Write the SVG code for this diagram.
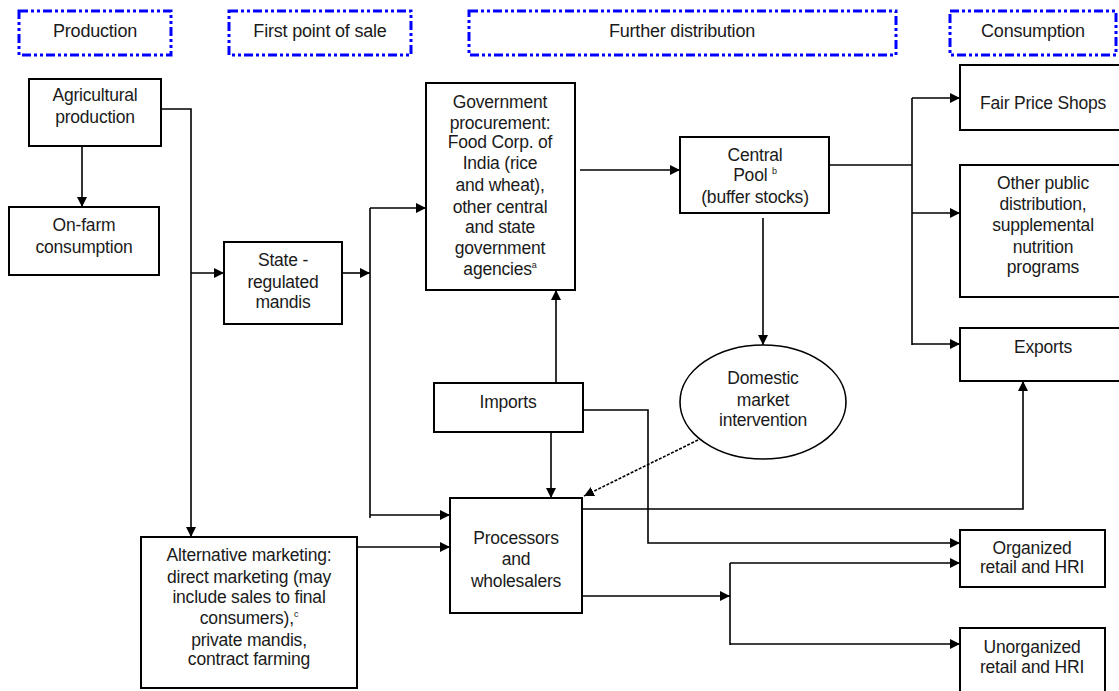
<svg xmlns="http://www.w3.org/2000/svg" width="1119" height="691" viewBox="0 0 1119 691">
<defs>
<marker id="ah" viewBox="0 0 10 10" refX="10" refY="5" markerWidth="10" markerHeight="10" markerUnits="userSpaceOnUse" orient="auto">
<path d="M0,0 L10,5 L0,10 z" fill="#000"/>
</marker>
<style>
.hdr{fill:none;stroke:#0000ff;stroke-width:3;stroke-dasharray:9,3,3,3,3,3}
.box{fill:#fff;stroke:#000;stroke-width:2}
.t{font-family:"Liberation Sans",Arial,sans-serif;font-size:17.5px;fill:#1a1a1a;text-anchor:middle;letter-spacing:-0.2px}
.th{font-family:"Liberation Sans",Arial,sans-serif;font-size:18px;fill:#1a1a1a;text-anchor:middle;letter-spacing:-0.2px}
.sup{font-size:9px}
.c{fill:none;stroke:#000;stroke-width:1.6}
.a{marker-end:url(#ah)}
.d{stroke-dasharray:3,1.5}
</style>
</defs>
<rect width="1119" height="691" fill="#fff"/>

<g id="headers">
<g id="h-production"><rect class="hdr" x="19" y="11" width="152" height="44"/><text class="th" x="95" y="37">Production</text></g>
<g id="h-first"><rect class="hdr" x="229" y="11" width="182" height="44"/><text class="th" x="320" y="37">First point of sale</text></g>
<g id="h-further"><rect class="hdr" x="469" y="11" width="427" height="44"/><text class="th" x="682" y="37">Further distribution</text></g>
<g id="h-consumption"><rect class="hdr" x="950" y="11" width="166" height="44"/><text class="th" x="1033" y="37">Consumption</text></g>
</g>

<g id="connectors">
<path class="c a" d="M82,146 V207"/>
<path class="c a" d="M160,109 H191 V537"/>
<path class="c a" d="M191,273 H224"/>
<path class="c a" d="M342,273 H370"/>
<path class="c" d="M370,208 V518"/>
<path class="c a" d="M370,208 H426"/>
<path class="c a" d="M370,515 H450"/>
<path class="c a" d="M357,547 H450"/>
<path class="c a" d="M580,170 H680"/>
<path class="c a" d="M763,218 V345"/>
<path class="c" d="M830,165 H912"/>
<path class="c" d="M912,98 V345"/>
<path class="c a" d="M912,98 H960"/>
<path class="c a" d="M912,213 H960"/>
<path class="c a" d="M912,344 H960"/>
<path class="c a" d="M556,382 V290"/>
<path class="c a" d="M551,432 V498"/>
<path class="c a" d="M583,410 H648 V543 H960"/>
<path class="c d a" d="M698,440 L584,496"/>
<path class="c a" d="M582,509 H1023 V381"/>
<path class="c a" d="M582,596 H730"/>
<path class="c" d="M730,563 V645"/>
<path class="c a" d="M730,563 H960"/>
<path class="c a" d="M730,644 H960"/>
</g>

<g id="n-agri"><rect class="box" x="29" y="79" width="132" height="67"/>
<text class="t" x="95" y="101">Agricultural</text><text class="t" x="95" y="123">production</text></g>

<g id="n-onfarm"><rect class="box" x="9" y="207" width="150" height="68"/>
<text class="t" x="84" y="231">On-farm</text><text class="t" x="84" y="253">consumption</text></g>

<g id="n-state"><rect class="box" x="224" y="242" width="118" height="82"/>
<text class="t" x="283" y="266">State -</text><text class="t" x="283" y="288">regulated</text><text class="t" x="283" y="308">mandis</text></g>

<g id="n-gov"><rect class="box" x="426" y="83" width="149" height="207"/>
<text class="t" x="500" y="108">Government</text>
<text class="t" x="500" y="129">procurement:</text>
<text class="t" x="500" y="148">Food Corp. of</text>
<text class="t" x="500" y="169">India (rice</text>
<text class="t" x="500" y="191">and wheat),</text>
<text class="t" x="500" y="213">other central</text>
<text class="t" x="500" y="233">and state</text>
<text class="t" x="500" y="254">government</text>
<text class="t" x="500" y="275">agencies<tspan class="sup" dy="-7">a</tspan></text></g>

<g id="n-central"><rect class="box" x="680" y="137" width="149" height="76"/>
<text class="t" x="755" y="161">Central</text>
<text class="t" x="755" y="181">Pool <tspan class="sup" dy="-7">b</tspan></text>
<text class="t" x="755" y="203">(buffer stocks)</text></g>

<g id="n-fair"><rect class="box" x="960" y="65" width="170" height="65"/>
<text class="t" x="1043" y="109">Fair Price Shops</text></g>

<g id="n-other"><rect class="box" x="960" y="165" width="170" height="132"/>
<text class="t" x="1043" y="189">Other public</text>
<text class="t" x="1043" y="210">distribution,</text>
<text class="t" x="1043" y="231">supplemental</text>
<text class="t" x="1043" y="253">nutrition</text>
<text class="t" x="1043" y="273">programs</text></g>

<g id="n-exports"><rect class="box" x="960" y="328" width="170" height="53"/>
<text class="t" x="1043" y="353">Exports</text></g>

<g id="n-domestic"><ellipse cx="763" cy="402" rx="83" ry="57" fill="#fff" stroke="#000" stroke-width="1.6"/>
<text class="t" x="763" y="384">Domestic</text>
<text class="t" x="763" y="406">market</text>
<text class="t" x="763" y="426">intervention</text></g>

<g id="n-imports"><rect class="box" x="434" y="383" width="149" height="49"/>
<text class="t" x="508" y="408">Imports</text></g>

<g id="n-processors"><rect class="box" x="450" y="498" width="132" height="115"/>
<text class="t" x="516" y="544">Processors</text>
<text class="t" x="516" y="565">and</text>
<text class="t" x="516" y="587">wholesalers</text></g>

<g id="n-alt"><rect class="box" x="141" y="537" width="216" height="151"/>
<text class="t" x="249" y="561">Alternative marketing:</text>
<text class="t" x="249" y="583">direct marketing (may</text>
<text class="t" x="249" y="603">include sales to final</text>
<text class="t" x="249" y="624">consumers),<tspan class="sup" dy="-7">c</tspan></text>
<text class="t" x="249" y="646">private mandis,</text>
<text class="t" x="249" y="665">contract farming</text></g>

<g id="n-organized"><rect class="box" x="960" y="530" width="145" height="57"/>
<text class="t" x="1032" y="554">Organized</text>
<text class="t" x="1032" y="573">retail and HRI</text></g>

<g id="n-unorganized"><rect class="box" x="960" y="628" width="145" height="70"/>
<text class="t" x="1032" y="653">Unorganized</text>
<text class="t" x="1032" y="673">retail and HRI</text></g>
</svg>
